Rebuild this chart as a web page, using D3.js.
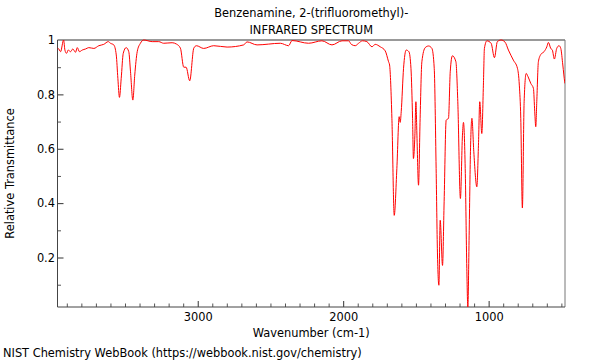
<!DOCTYPE html>
<html>
<head>
<meta charset="utf-8">
<script src="https://cdn.jsdelivr.net/npm/d3@7"></script>
<style>
  body { margin: 0; background: #fff; }
  svg text { font-family: "DejaVu Sans", sans-serif; fill: #000; }
</style>
</head>
<body>
<svg class="chart"></svg>
<script>
// spectrum: wavenumber (cm-1) and relative transmittance
var wavenumbers = [3964, 3959, 3943, 3922, 3913, 3902, 3890, 3874, 3859, 3840, 3828, 3813, 3794, 3771, 3749,
    3714, 3680, 3646, 3615, 3600, 3577, 3560, 3549, 3538, 3526, 3512, 3492, 3474, 3462, 3446, 3433, 3416,
    3394, 3371, 3313, 3268, 3234, 3176, 3146, 3119, 3096, 3080, 3055, 3027, 3009, 2959, 2890, 2798, 2684,
    2661, 2592, 2432, 2375, 2352, 2238, 2146, 2077, 2008, 1963, 1944, 1917, 1894, 1867, 1837, 1802, 1780,
    1745, 1711, 1688, 1681, 1665, 1649, 1631, 1615, 1608, 1601, 1585, 1567, 1548, 1534, 1523, 1517, 1507,
    1500, 1493, 1482, 1471, 1459, 1436, 1413, 1390, 1374, 1361, 1352, 1342, 1333, 1317, 1306, 1292, 1276,
    1264, 1249, 1225, 1212, 1194, 1180, 1173, 1161, 1150, 1143, 1134, 1125, 1115, 1102, 1081, 1070, 1061,
    1047, 1036, 1029, 1012, 983, 960, 940, 914, 887, 864, 830, 802, 789, 779, 768, 756, 742, 729, 710, 692,
    683, 676, 669, 658, 641, 619, 600, 589, 573, 562, 548, 532, 516, 504, 490, 477, 475];
var transmittance = [0.969, 0.969, 0.957, 1.0, 0.963, 0.951, 0.963, 0.957, 0.967, 0.955, 0.972, 0.957, 0.963,
    0.967, 0.972, 0.969, 0.979, 0.984, 0.994, 0.988, 0.982, 0.945, 0.859, 0.789, 0.859, 0.951, 0.972, 0.957,
    0.883, 0.779, 0.871, 0.957, 0.988, 1.0, 0.994, 0.994, 0.988, 0.99, 0.985, 0.97, 0.90, 0.90, 0.85, 0.97,
    0.979, 0.969, 0.979, 0.974, 0.982, 0.993, 0.982, 0.988, 0.979, 0.998, 0.988, 0.997, 0.982, 0.997, 0.997,
    0.984, 0.979, 0.988, 0.997, 0.994, 0.975, 0.984, 0.975, 0.96, 0.92, 0.908, 0.712, 0.355, 0.527, 0.718,
    0.697, 0.736, 0.896, 0.963, 0.957, 0.896, 0.712, 0.564, 0.65, 0.773, 0.65, 0.466, 0.712, 0.92, 0.972,
    0.978, 0.969, 0.896, 0.527, 0.22, 0.098, 0.337, 0.171, 0.405, 0.705, 0.712, 0.883, 0.942, 0.92, 0.773,
    0.417, 0.65, 0.697, 0.527, 0.159, 0.018, 0.282, 0.589, 0.712, 0.589, 0.46, 0.613, 0.773, 0.656, 0.834,
    0.969, 0.997, 0.988, 0.935, 0.994, 1.0, 0.992, 0.963, 0.926, 0.896, 0.834, 0.712, 0.382, 0.773, 0.877,
    0.865, 0.84, 0.822, 0.736, 0.681, 0.773, 0.92, 0.947, 0.957, 0.975, 0.991, 0.969, 0.963, 0.93, 0.969,
    0.979, 0.969, 0.908, 0.846, 0.84];

var xMajorTicks = [3000, 2000, 1000];
var yMajorTicks = [0.2, 0.4, 0.6, 0.8, 1];
var yTickLabels = ["0.2", "0.4", "0.6", "0.8", "1"];
var titleLines = ["Benzenamine, 2-(trifluoromethyl)-", "INFRARED SPECTRUM"];

var W = 600, H = 360;
var plot = {left: 57.5, right: 565, top: 40, bottom: 307};
var fontSize = 11.4;

var svg = d3.select(".chart").attr("width", W).attr("height", H);

var x = d3.scaleLinear().domain([3964, 475]).range([plot.left, plot.right]);
var y = d3.scaleLinear().domain([0.018, 1]).range([plot.bottom, plot.top]);

// minor ticks every 100 cm-1 and 0.1
var xMinor = d3.range(500, 3964, 100).filter(function(v) { return xMajorTicks.indexOf(v) < 0; });
var yMinor = d3.range(1, 10).map(function(i) { return i / 10; })
    .filter(function(v) { return yMajorTicks.indexOf(+v.toFixed(1)) < 0; });

svg.append("g")
    .attr("transform", "translate(0," + plot.bottom + ")")
    .call(d3.axisBottom(x).tickValues(xMinor).tickSize(-3.5).tickFormat(""))
    .call(function(g) { g.select(".domain").remove(); g.selectAll("line").attr("stroke", "#555"); });

svg.append("g")
    .attr("class", "xaxis")
    .attr("transform", "translate(0," + plot.bottom + ")")
    .call(d3.axisBottom(x).tickValues(xMajorTicks).tickSize(-6).tickPadding(6).tickFormat(d3.format("d")))
    .call(function(g) {
        g.select(".domain").remove();
        g.selectAll("line").attr("stroke", "#333");
        g.selectAll("text").attr("font-size", fontSize).attr("font-family", "DejaVu Sans")
            .attr("y", 6).attr("dy", "0.71em");
    });

svg.append("g")
    .attr("transform", "translate(" + plot.left + ",0)")
    .call(d3.axisLeft(y).tickValues(yMinor).tickSize(-3.5).tickFormat(""))
    .call(function(g) { g.select(".domain").remove(); g.selectAll("line").attr("stroke", "#555"); });

svg.append("g")
    .attr("transform", "translate(" + plot.left + ",0)")
    .call(d3.axisLeft(y).tickValues(yMajorTicks).tickSize(-6).tickPadding(4)
        .tickFormat(function(d, i) { return yTickLabels[i]; }))
    .call(function(g) {
        g.select(".domain").remove();
        g.selectAll("line").attr("stroke", "#333");
        g.selectAll("text").attr("font-size", fontSize).attr("font-family", "DejaVu Sans")
            .attr("dx", 6.5).attr("x", -9);
    });

// frame
svg.append("line").attr("x1", plot.left).attr("x2", plot.right).attr("y1", plot.top).attr("y2", plot.top)
    .attr("stroke", "#999").attr("stroke-width", 2);
svg.append("line").attr("x1", plot.right).attr("x2", plot.right).attr("y1", plot.top).attr("y2", plot.bottom)
    .attr("stroke", "#777");
svg.append("line").attr("x1", plot.left).attr("x2", plot.left).attr("y1", plot.top).attr("y2", plot.bottom)
    .attr("stroke", "#444");
svg.append("line").attr("x1", plot.left).attr("x2", plot.right).attr("y1", plot.bottom).attr("y2", plot.bottom)
    .attr("stroke", "#444");

var data = wavenumbers.map(function(w, i) { return [w, transmittance[i]]; });

var line = d3.line()
    .x(function(d) { return x(d[0]); })
    .y(function(d) { return y(d[1]); })
    .curve(d3.curveMonotoneX);

svg.append("defs").append("clipPath").attr("id", "plotclip")
    .append("rect").attr("x", plot.left).attr("y", plot.top - 1)
    .attr("width", plot.right - plot.left).attr("height", plot.bottom - plot.top + 1);

svg.append("path")
    .datum(data)
    .attr("clip-path", "url(#plotclip)")
    .attr("fill", "none")
    .attr("stroke", "#ff0000")
    .attr("stroke-width", 1)
    .attr("d", line);

// texts
var cx = (plot.left + plot.right) / 2;

svg.selectAll(".title").data(titleLines).enter().append("text")
    .attr("class", "title")
    .attr("x", cx).attr("y", function(d, i) { return 17 + i * 17; })
    .attr("text-anchor", "middle").attr("font-size", fontSize)
    .text(function(d) { return d; });

svg.append("text")
    .attr("x", cx).attr("y", 337)
    .attr("text-anchor", "middle").attr("font-size", fontSize)
    .text("Wavenumber (cm-1)");

svg.append("text")
    .attr("transform", "translate(14,173.5) rotate(-90)")
    .attr("text-anchor", "middle").attr("font-size", fontSize)
    .text("Relative Transmittance");

svg.append("text")
    .attr("x", 3).attr("y", 357)
    .attr("font-size", fontSize)
    .text("NIST Chemistry WebBook (https://webbook.nist.gov/chemistry)");
</script>
</body>
</html>
